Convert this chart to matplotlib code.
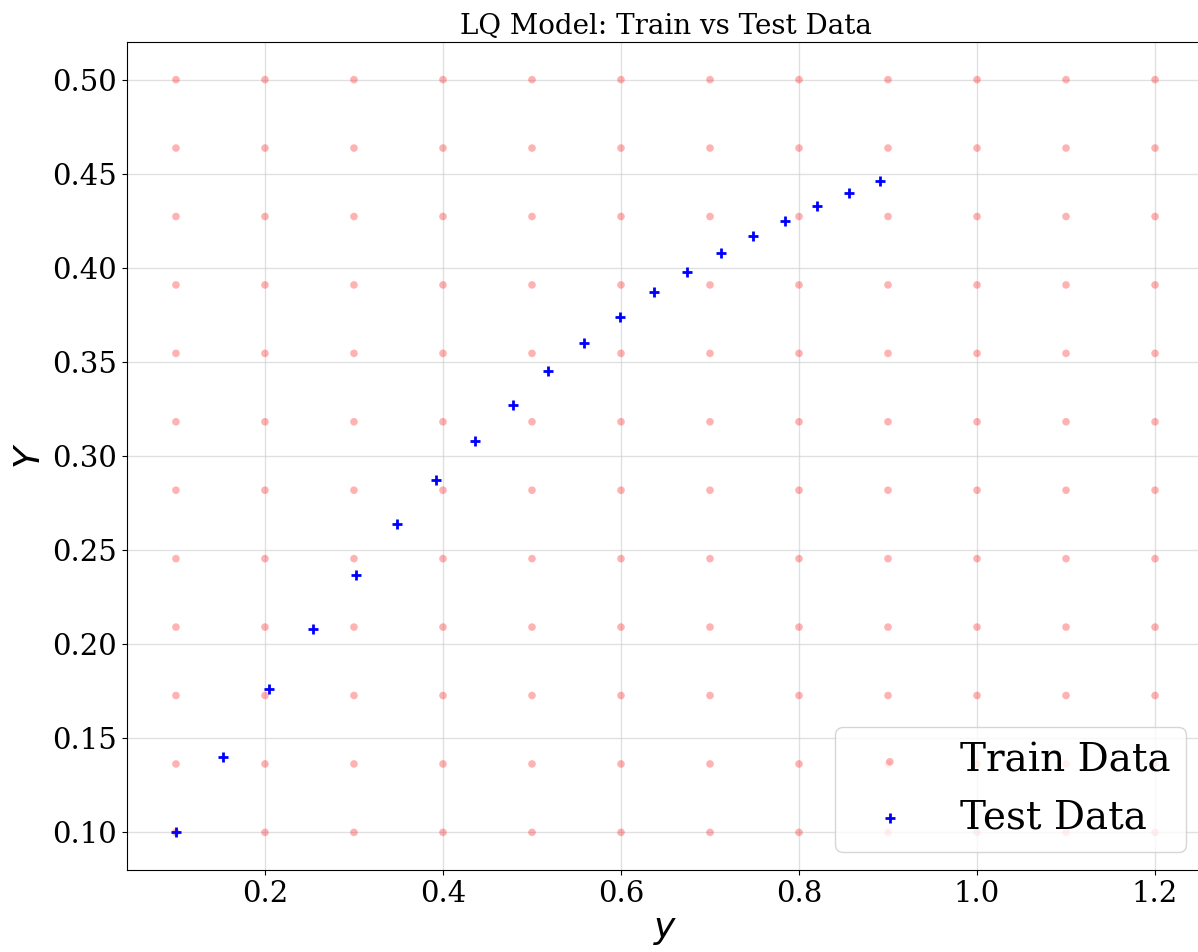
import numpy as np
import matplotlib
matplotlib.use("Agg")
import matplotlib.pyplot as plt

# Train grid
train_x_vals = [0.1, 0.2, 0.3, 0.4, 0.5, 0.6, 0.7, 0.8, 0.9, 1.0, 1.1, 1.2]
train_y_vals = [0.1, 0.13636, 0.17273, 0.20909, 0.24545, 0.28182,
                0.31818, 0.35455, 0.39091, 0.42727, 0.46364, 0.5]

# Test data
test_x = [0.100, 0.153, 0.204, 0.254, 0.302, 0.348, 0.392, 0.436, 0.479, 0.518,
          0.558, 0.599, 0.637, 0.674, 0.712, 0.748, 0.784, 0.820, 0.856, 0.891]
test_y = [0.100, 0.140, 0.176, 0.208, 0.237, 0.264, 0.287, 0.308, 0.327, 0.345,
          0.360, 0.374, 0.387, 0.398, 0.408, 0.417, 0.425, 0.433, 0.440, 0.446]

TX, TY = np.meshgrid(train_x_vals, train_y_vals)

fig = plt.figure(figsize=(11.98, 9.52), dpi=100)
ax = fig.add_axes([127/1198, 1 - 870/952, (1204-127)/1198, (870-42)/952])

ax.scatter(TX.ravel(), TY.ravel(), s=30, color='red', alpha=0.3, edgecolors='none', label='Train Data')
ax.scatter(test_x, test_y, s=50, marker='+', color='blue', linewidths=2, label='Test Data')

ax.grid(True, color='#cccccc', alpha=0.6, linewidth=1)
ax.set_axisbelow(True)

ax.set_title('LQ Model: Train vs Test Data', fontsize=20, family='DejaVu Serif')
ax.set_xlabel('$y$', fontsize=26)
ax.set_ylabel('$Y$', fontsize=26)
for lab in ax.get_xticklabels() + ax.get_yticklabels():
    lab.set_family('DejaVu Serif')
    lab.set_fontsize(21)
ax.yaxis.set_major_formatter(matplotlib.ticker.FormatStrFormatter('%.2f'))

leg = ax.legend(loc='lower right', prop={'family': 'DejaVu Serif', 'size': 28},
                bbox_to_anchor=((1186-127)/1077, (870-852)/828), bbox_transform=ax.transAxes,
                borderaxespad=0)

fig.savefig('out.png', dpi=100)
